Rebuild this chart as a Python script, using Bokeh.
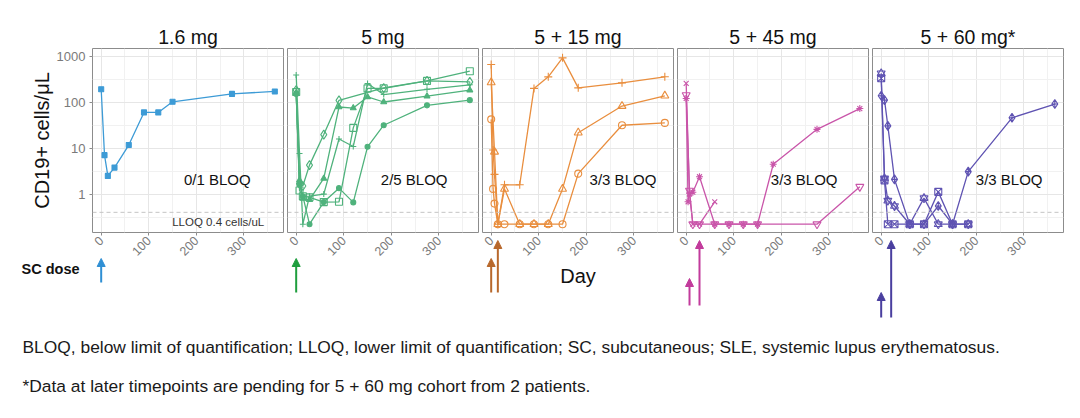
import math
from bokeh.plotting import figure
from bokeh.layouts import row, column
from bokeh.models import (Range1d, FixedTicker, Grid, Arrow, NormalHead,
                          Label, Span, ColumnDataSource, BasicTickFormatter)
from bokeh.embed import file_html
from bokeh.resources import INLINE

FONT = "Liberation Sans"

# ---------------- data ----------------
panel_titles = ["1.6 mg", "5 mg", "5 + 15 mg", "5 + 45 mg", "5 + 60 mg*"]
bloq_labels = ["0/1 BLOQ", "2/5 BLOQ", "3/3 BLOQ", "3/3 BLOQ", "3/3 BLOQ"]
line_colors = ["#3d9bd6", "#4fb27c", "#e98e3e", "#c955a9", "#5f53b2"]
arrow_colors = ["#2f8fd4", "#1f9e3e", "#b8682c", "#c23b9c", "#4a3f9f"]

x_ticks = [0, 100, 200, 300]
x_minor = [50, 150, 250, 350]
y_ticks = [1, 10, 100, 1000]
y_minor = [0.316, 3.16, 31.6, 316]
LLOQ = 0.4

# 1.6 mg
p1_days = [0, 7, 14, 28, 58, 90, 120, 150, 275, 365]
p1_vals = [195, 7.1, 2.5, 3.8, 11.8, 61, 61, 104, 155, 175]

# 5 mg
p2_circle_days = [0, 7, 14, 28, 58, 90, 120, 150, 184, 275, 365]
p2_circle_vals = [155, 1.6, 0.9, 0.22, 0.67, 1.35, 0.66, 10.8, 32, 87, 113]
p2_tri_days = [0, 7, 14, 28, 58, 90, 120, 150, 184, 275, 365]
p2_tri_vals = [165, 2.0, 0.8, 0.75, 2.2, 80, 76, 133, 103, 138, 187]
p2_square_days = [0, 7, 14, 28, 58, 90, 120, 150, 184, 275, 365]
p2_square_vals = [170, 1.2, 0.9, 0.85, 0.67, 0.68, 28, 204, 204, 298, 485]
p2_diamond_days = [0, 7, 14, 28, 58, 90, 184, 275, 365]
p2_diamond_vals = [187, 1.7, 1.5, 4.3, 20, 112, 209, 298, 283]
p2_plus_days = [0, 7, 14, 28, 58, 90, 120, 150, 184, 275, 365]
p2_plus_vals = [400, 7.7, 0.22, 0.9, 1.0, 16, 11, 262, 150, 195, 245]

# 5 + 15 mg
p3_plus_days = [0, 4, 7, 14, 28, 60, 90, 120, 150, 183, 275, 365]
p3_plus_vals = [680, 9.2, 2.7, 0.22, 1.6, 1.6, 204, 365, 950, 210, 270, 366]
p3_tri_days = [0, 7, 14, 28, 60, 90, 120, 150, 183, 275, 365]
p3_tri_vals = [275, 8.4, 0.22, 1.3, 0.22, 0.22, 0.22, 1.3, 22, 84, 141]
p3_circle_days = [0, 4, 7, 14, 28, 60, 90, 120, 150, 183, 275, 365]
p3_circle_vals = [43, 1.3, 0.62, 0.22, 0.22, 0.22, 0.22, 0.22, 0.22, 2.8, 32, 36]

# 5 + 45 mg
p4_x_days = [0, 7, 14, 28, 60]
p4_x_vals = [262, 1.0, 0.22, 0.22, 0.68]
p4_ast_days = [0, 4, 7, 14, 28, 60, 90, 120, 150, 183, 275, 365]
p4_ast_vals = [123, 0.68, 1.05, 1.1, 2.4, 0.22, 0.22, 0.22, 0.22, 4.5, 26, 74]
p4_inv_days = [0, 7, 14, 28, 60, 90, 120, 150, 275, 365]
p4_inv_vals = [146, 1.2, 0.22, 0.22, 0.22, 0.22, 0.22, 0.22, 0.22, 1.45]

# 5 + 60 mg
p5_dc_days = [0, 7, 14, 28, 60, 90, 120, 150, 183, 275, 365]
p5_dc_vals = [141, 113, 31, 2.1, 0.22, 0.22, 0.55, 0.22, 3.1, 46.5, 93]
p5_hex_days = [0, 7, 14, 28, 60, 90, 120, 150, 183]
p5_hex_vals = [435, 2.2, 0.72, 0.55, 0.22, 0.82, 0.22, 0.22, 0.22]
p5_sqx_days = [0, 7, 14, 28, 60, 90, 120, 150, 183]
p5_sqx_vals = [340, 2.0, 0.22, 0.22, 0.22, 0.22, 1.12, 0.22, 0.22]

# SC dose days per cohort
dose_days = [[0], [0], [0, 14], [7, 28], [0, 21]]

footnote_1 = ("BLOQ, below limit of quantification; LLOQ, lower limit of quantification; "
              "SC, subcutaneous; SLE, systemic lupus erythematosus.")
footnote_2 = "*Data at later timepoints are pending for 5 + 60 mg cohort from 2 patients."

# (days, values, markers, filled, size)
panel_series = [
    [(p1_days, p1_vals, ("square",), True, 5)],
    [(p2_circle_days, p2_circle_vals, ("circle",), True, 5),
     (p2_tri_days, p2_tri_vals, ("triangle",), True, 6),
     (p2_square_days, p2_square_vals, ("square",), False, 7),
     (p2_diamond_days, p2_diamond_vals, ("diamond",), False, 9),
     (p2_plus_days, p2_plus_vals, ("cross",), False, 6)],
    [(p3_plus_days, p3_plus_vals, ("cross",), False, 8),
     (p3_tri_days, p3_tri_vals, ("triangle",), False, 8),
     (p3_circle_days, p3_circle_vals, ("circle",), False, 7)],
    [(p4_x_days, p4_x_vals, ("x",), False, 7),
     (p4_ast_days, p4_ast_vals, ("asterisk",), False, 7),
     (p4_inv_days, p4_inv_vals, ("inverted_triangle",), False, 8)],
    [(p5_dc_days, p5_dc_vals, ("diamond_cross",), False, 9),
     (p5_hex_days, p5_hex_vals, ("triangle", "inverted_triangle"), False, 8),
     (p5_sqx_days, p5_sqx_vals, ("square_x",), False, 7)],
]

# ---------------- layout constants ----------------
FRAME_W, FRAME_H = 191, 184
LEFT0 = 92
TOP = 48
BOTTOM1 = 30
ARROW_H = 84
OVERLAP = 26
X_START, X_END = -18.25, 383.25
Y_START, Y_END = 0.145, 1520
bloq_label_x = [244, 248, 277, 248, 269]
BLOQ_LABEL_Y = 2.1
# arrows: per cohort list of (bottom, top) in px above the bottom of the arrow strip
arrow_extent = [[(38, 62)], [(28, 62)], [(28, 62), (28, 80)],
                [(15, 42), (15, 80)], [(3, 28), (3, 80)]]

TICK_COLOR = "#7a7a7a"
x_ranges = [Range1d(X_START, X_END) for _ in range(5)]


def make_panel(i):
    first = i == 0
    p = figure(
        title=panel_titles[i],
        frame_width=FRAME_W, frame_height=FRAME_H,
        x_range=x_ranges[i], y_range=Range1d(Y_START, Y_END),
        y_axis_type="log",
        y_axis_location="left" if first else None,
        output_backend="svg", toolbar_location=None,
        min_border_left=LEFT0 if first else 2, min_border_right=2,
        min_border_top=TOP, min_border_bottom=BOTTOM1,
        background_fill_color="white", border_fill_color="white",
    )
    p.center = [r for r in p.center if not isinstance(r, Grid)]
    xt = FixedTicker(ticks=x_ticks, minor_ticks=x_minor)
    yt = FixedTicker(ticks=y_ticks, minor_ticks=y_minor)
    for dim, tk in ((0, xt), (1, yt)):
        p.add_layout(Grid(dimension=dim, ticker=tk, grid_line_color="#e6e6e6",
                          grid_line_width=1, minor_grid_line_color="#f1f1f1",
                          minor_grid_line_width=1), "center")
    p.outline_line_color = "#8c8c8c"
    p.outline_line_width = 1

    p.title.align = "center"
    p.title.text_font = FONT
    p.title.text_font_size = "19.5px"
    p.title.text_font_style = "normal"
    p.title.text_color = "#111111"
    p.title.standoff = 1

    ax = p.xaxis[0]
    ax.ticker = xt
    ax.formatter = BasicTickFormatter()
    ax.major_label_orientation = math.pi / 4
    ax.major_label_text_font = FONT
    ax.major_label_text_font_size = "12.5px"
    ax.major_label_text_color = TICK_COLOR
    ax.axis_line_color = None
    ax.major_tick_line_color = "#8c8c8c"
    ax.minor_tick_line_color = None
    ax.major_tick_out = 3
    ax.major_tick_in = 0
    ax.major_label_standoff = 2

    if first:
        ay = p.yaxis[0]
        ay.ticker = yt
        ay.formatter = BasicTickFormatter()
        ay.major_label_text_font = FONT
        ay.major_label_text_font_size = "13px"
        ay.major_label_text_color = TICK_COLOR
        ay.axis_line_color = None
        ay.major_tick_line_color = "#8c8c8c"
        ay.minor_tick_line_color = None
        ay.major_tick_out = 3
        ay.major_tick_in = 0
        ay.major_label_standoff = 3
        ay.axis_label = "CD19+ cells/μL"
        ay.axis_label_text_font = FONT
        ay.axis_label_text_font_size = "20px"
        ay.axis_label_text_font_style = "normal"
        ay.axis_label_text_color = "#111111"
        ay.axis_label_standoff = 1

    p.add_layout(Span(location=LLOQ, dimension="width", line_color="#c4c4c4",
                      line_dash="4 3", line_width=1))

    c = line_colors[i]
    for days, vals, markers, filled, size in panel_series[i]:
        src = ColumnDataSource(dict(day=days, val=vals))
        p.line("day", "val", source=src, line_color=c, line_width=1.3)
        for m in markers:
            p.scatter("day", "val", source=src, marker=m, size=size, line_color=c,
                      fill_color=c if filled else None, line_width=1.1)

    p.add_layout(Label(x=bloq_label_x[i], y=BLOQ_LABEL_Y, text=bloq_labels[i],
                       text_align="center", text_baseline="middle", text_font=FONT,
                       text_font_size="15px", text_color="#111111"))
    if first:
        p.add_layout(Label(x=246, y=0.245, text="LLOQ 0.4 cells/uL", text_align="center",
                           text_baseline="middle", text_font=FONT, text_font_size="11.5px",
                           text_color="#333333"))
    return p


def make_arrow_strip(i):
    first = i == 0
    a = figure(frame_width=FRAME_W, frame_height=ARROW_H,
               x_range=x_ranges[i], y_range=Range1d(0, ARROW_H),
               output_backend="svg", toolbar_location=None,
               min_border_left=0 if first else 2, min_border_right=2,
               min_border_top=0, min_border_bottom=0,
               x_axis_location=None, y_axis_location=None,
               outline_line_color=None, background_fill_color=None,
               border_fill_color=None)
    a.center = [r for r in a.center if not isinstance(r, Grid)]
    ac = arrow_colors[i]
    for d, (bot, top) in zip(dose_days[i], arrow_extent[i]):
        a.add_layout(Arrow(x_start=d, y_start=bot, x_end=d, y_end=top,
                           line_color=ac, line_width=2,
                           end=NormalHead(size=8, line_color=ac, fill_color=ac,
                                          line_width=1)))
    if i == 2:
        a.add_layout(Label(x=(X_START + X_END) / 2, y=45, text="Day", text_align="center",
                           text_baseline="middle", text_font=FONT, text_font_size="20px",
                           text_color="#111111"))
    return a


panels = [make_panel(i) for i in range(5)]
strips = [make_arrow_strip(i) for i in range(5)]

sc = figure(width=LEFT0, height=ARROW_H, x_range=Range1d(0, LEFT0), y_range=Range1d(0, ARROW_H),
            output_backend="svg", toolbar_location=None, min_border=0,
            x_axis_location=None, y_axis_location=None, outline_line_color=None,
            background_fill_color=None, border_fill_color=None)
sc.center = [r for r in sc.center if not isinstance(r, Grid)]
sc.add_layout(Label(x=21, y=52, text="SC dose", text_align="left", text_baseline="middle",
                    text_font=FONT, text_font_size="14.5px", text_font_style="bold",
                    text_color="#111111"))

FOOT_H = 80
foot = figure(width=1064, height=FOOT_H, x_range=Range1d(0, 1064), y_range=Range1d(0, FOOT_H),
              output_backend="svg", toolbar_location=None, min_border=0,
              x_axis_location=None, y_axis_location=None, outline_line_color=None,
              background_fill_color="white", border_fill_color="white")
foot.center = [r for r in foot.center if not isinstance(r, Grid)]
for txt, yy in ((footnote_1, FOOT_H - 26), (footnote_2, FOOT_H - 65)):
    foot.add_layout(Label(x=22, y=yy, text=txt, text_align="left", text_baseline="middle",
                          text_font=FONT, text_font_size="17.4px", text_color="#1a1a1a"))

row1 = row(*panels)
row2 = row(sc, *strips, margin=(-OVERLAP, 0, 0, 0))
layout = column(row1, row2, foot)
open("out.html", "w").write(file_html(layout, INLINE))
